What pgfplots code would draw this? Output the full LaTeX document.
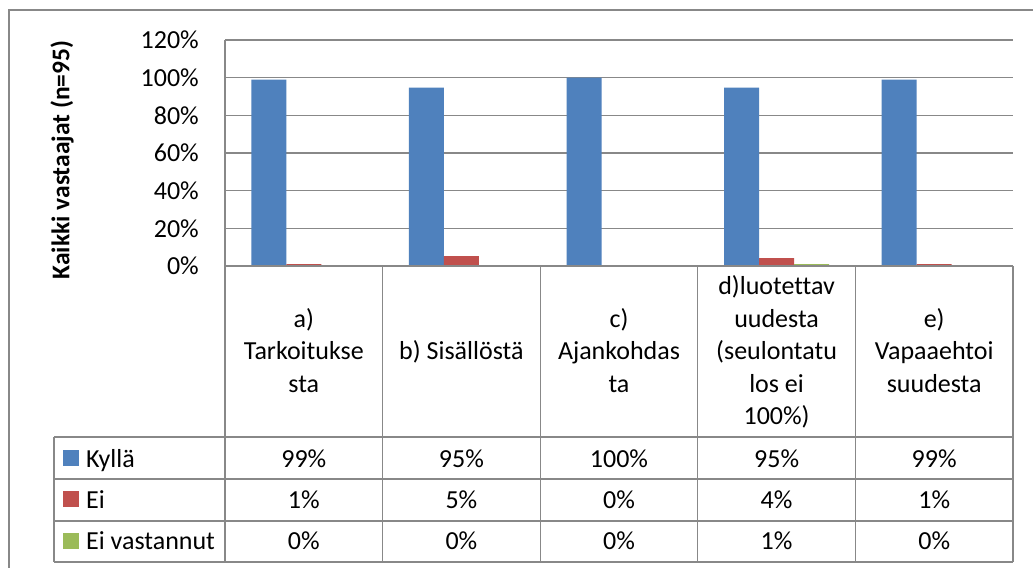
\documentclass[border=0pt]{standalone}
\usepackage{pgfplots}
\pgfplotsset{compat=1.18}
\usepackage{fontspec}
\setmainfont[Ligatures=NoCommon]{Carlito}
\definecolor{cblue}{HTML}{4F81BD}
\definecolor{cred}{HTML}{C0504D}
\definecolor{cgreen}{HTML}{9BBB59}
\definecolor{gridc}{HTML}{888888}
\begin{document}
\begin{tikzpicture}[x=1bp,y=1bp, font=\fontsize{26bp}{32bp}\selectfont]
\useasboundingbox (0,0) rectangle (1033,568);
\clip (0,0) rectangle (1033,568);
\fill[white] (0,0) rectangle (1033,568);
\draw[gridc, line width=1.3bp] (9,-20) rectangle (1060,558);
\begin{axis}[
  at={(225bp,302bp)}, anchor=south west,
  scale only axis, width=788bp, height=226bp,
  xmin=0, xmax=5, ymin=0, ymax=1.2,
  axis x line=none,
  axis y line*=left,
  y axis line style={gridc, line width=1.3bp},
  ytick={0,0.2,0.4,0.6,0.8,1.0,1.2},
  yticklabels={0\%,20\%,40\%,60\%,80\%,100\%,120\%},
  major tick length=0pt,
  ymajorgrids,
  grid style={gridc, line width=1.3bp},
  yticklabel style={font=\fontsize{26bp}{32bp}\selectfont, inner sep=0pt, xshift=-26bp},
  /pgf/number format/assume math mode=true,
  ybar=0pt, bar width=35bp,
  clip=false,
]
\addplot[fill=cblue, draw=none] coordinates {(0.5,0.989) (1.5,0.947) (2.5,1.0) (3.5,0.947) (4.5,0.989)};
\addplot[fill=cred, draw=none] coordinates {(0.5,0.0105) (1.5,0.053) (2.5,0) (3.5,0.042) (4.5,0.0105)};
\addplot[fill=cgreen, draw=none] coordinates {(0.5,0) (1.5,0) (2.5,0) (3.5,0.0105) (4.5,0)};
\end{axis}
% y label
\node[rotate=90, font=\fontsize{25.5bp}{31.5bp}\selectfont\bfseries] at (62,408) {Kaikki vastaajat (n=95)};
% table lines
\begin{scope}[gridc, line width=1.3bp]
\draw (225,302) -- (1013,302);
\draw (54,131) -- (1013,131);
\draw (54,89) -- (1013,89);
\draw (54,47) -- (1013,47);
\draw (54,6) -- (1013,6);
\draw (54,131) -- (54,6);
\foreach \xx in {225,382.6,540.2,697.8,855.4,1013} {\draw (\xx,302) -- (\xx,6);}
\end{scope}
% header labels
\begin{scope}[every node/.style={anchor=base, inner sep=0pt}]
\node at (303.8,240.75) {a)};
\node at (303.8,208.25) {Tarkoitukse};
\node at (303.8,175.75) {sta};
\node at (461.4,208.25) {b) Sisällöstä};
\node at (619.0,240.75) {c)};
\node at (619.0,208.25) {Ajankohdas};
\node at (619.0,175.75) {ta};
\node at (776.6,273.25) {d)luotettav};
\node at (776.6,240.75) {uudesta};
\node at (776.6,208.25) {(seulontatu};
\node at (776.6,175.75) {los ei};
\node at (776.6,143.25) {100\%)};
\node at (934.2,240.75) {e)};
\node at (934.2,208.25) {Vapaaehtoi};
\node at (934.2,175.75) {suudesta};
% values
\node at (303.8,100.3) {99\%};
\node at (461.4,100.3) {95\%};
\node at (619.0,100.3) {100\%};
\node at (776.6,100.3) {95\%};
\node at (934.2,100.3) {99\%};
\node at (303.8,59.5) {1\%};
\node at (461.4,59.5) {5\%};
\node at (619.0,59.5) {0\%};
\node at (776.6,59.5) {4\%};
\node at (934.2,59.5) {1\%};
\node at (303.8,18) {0\%};
\node at (461.4,18) {0\%};
\node at (619.0,18) {0\%};
\node at (776.6,18) {1\%};
\node at (934.2,18) {0\%};
% legend
\node[anchor=base west] at (86,100.3) {Kyllä};
\node[anchor=base west] at (86,59.5) {Ei};
\node[anchor=base west] at (86,18) {Ei vastannut};
\end{scope}
\fill[cblue] (63,102) rectangle (79,118);
\fill[cred] (63,60.5) rectangle (79,76.5);
\fill[cgreen] (63,19) rectangle (79,35);
\end{tikzpicture}
\end{document}
